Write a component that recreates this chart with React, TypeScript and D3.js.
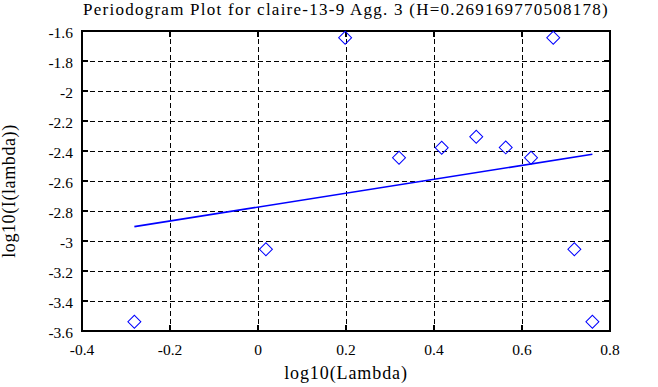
import React, { useEffect, useRef } from 'react';
import * as d3 from 'd3';

// log10(Lambda) / log10(I(lambda)) pairs
const lambdaLog = [-0.281, 0.018, 0.198, 0.3205, 0.4175, 0.496, 0.563, 0.6205, 0.671, 0.719, 0.76];
const powerLog = [-3.538, -3.055, -1.645, -2.445, -2.378, -2.305, -2.376, -2.445, -1.645, -3.055, -3.538];

const xTicks = [-0.4, -0.2, 0, 0.2, 0.4, 0.6, 0.8];
const yTicks = [-1.6, -1.8, -2, -2.2, -2.4, -2.6, -2.8, -3, -3.2, -3.4, -3.6];

const title = 'Periodogram Plot for claire-13-9 Agg. 3 (H=0.269169770508178)';
const xTitle = 'log10(Lambda)';
const yTitle = 'log10(I(lambda))';

export default function App() {
    const ref = useRef<SVGSVGElement>(null);

    useEffect(() => {
        const svg = d3.select(ref.current);
        svg.selectAll('*').remove();

        const W = 658;
        const H = 387;
        const margin = { top: 31, right: 48, bottom: 56, left: 82 };
        const font = '"Liberation Serif", "Times New Roman", serif';

        const x = d3.scaleLinear().domain([-0.4, 0.8]).range([margin.left, W - margin.right]);
        const y = d3.scaleLinear().domain([-3.6, -1.6]).range([H - margin.bottom, margin.top]);
        const [x0, x1] = x.range();
        const [y1, y0] = y.range();

        // dashed grid
        const grid = svg.append('g').attr('stroke', '#000').attr('stroke-width', 1).attr('stroke-dasharray', '5,3');
        grid.selectAll('.gx')
            .data(xTicks.slice(1, -1))
            .enter()
            .append('line')
            .attr('x1', (d) => Math.round(x(d)) + 0.5)
            .attr('x2', (d) => Math.round(x(d)) + 0.5)
            .attr('y1', y0)
            .attr('y2', y1);
        grid.selectAll('.gy')
            .data(yTicks.slice(1, -1))
            .enter()
            .append('line')
            .attr('x1', x0)
            .attr('x2', x1)
            .attr('y1', (d) => Math.round(y(d)) + 0.5)
            .attr('y2', (d) => Math.round(y(d)) + 0.5);

        // inward ticks on all four sides
        const ticks = svg.append('g').attr('stroke', '#000').attr('stroke-width', 2);
        const tl = 6;
        xTicks.forEach((t) => {
            const px = Math.round(x(t));
            ticks.append('line').attr('x1', px).attr('x2', px).attr('y1', y1).attr('y2', y1 - tl);
            ticks.append('line').attr('x1', px).attr('x2', px).attr('y1', y0).attr('y2', y0 + tl);
        });
        yTicks.forEach((t) => {
            const py = Math.round(y(t));
            ticks.append('line').attr('x1', x0).attr('x2', x0 + tl).attr('y1', py).attr('y2', py);
            ticks.append('line').attr('x1', x1).attr('x2', x1 - tl).attr('y1', py).attr('y2', py);
        });

        svg.append('rect')
            .attr('x', x0)
            .attr('y', y0)
            .attr('width', x1 - x0)
            .attr('height', y1 - y0)
            .attr('fill', 'none')
            .attr('stroke', '#000')
            .attr('stroke-width', 2);

        // least-squares fit line
        const mx = d3.mean(lambdaLog) as number;
        const my = d3.mean(powerLog) as number;
        const slope =
            d3.sum(lambdaLog, (v, i) => (v - mx) * (powerLog[i] - my)) / d3.sum(lambdaLog, (v) => (v - mx) ** 2);
        const fit = (v: number) => my + slope * (v - mx);
        const xs = d3.extent(lambdaLog) as [number, number];
        svg.append('path')
            .datum(xs)
            .attr('d', d3.line<number>().x((d) => x(d)).y((d) => y(fit(d))))
            .attr('stroke', '#0000ff')
            .attr('stroke-width', 1.6)
            .attr('fill', 'none');

        // diamonds
        svg.selectAll('.pt')
            .data(lambdaLog)
            .enter()
            .append('path')
            .attr('d', d3.symbol().type(d3.symbolSquare).size(84))
            .attr('transform', (d, i) => `translate(${x(d)},${y(powerLog[i])}) rotate(45)`)
            .attr('fill', 'none')
            .attr('stroke', '#0000ff')
            .attr('stroke-width', 1);

        // tick labels
        svg.selectAll('.xl')
            .data(xTicks)
            .enter()
            .append('text')
            .attr('x', (d) => x(d))
            .attr('y', 355)
            .attr('text-anchor', 'middle')
            .attr('font-family', font)
            .attr('font-size', 15.5)
            .text((d) => String(d));
        svg.selectAll('.yl')
            .data(yTicks)
            .enter()
            .append('text')
            .attr('x', 73)
            .attr('y', (d) => y(d) + 7)
            .attr('text-anchor', 'end')
            .attr('font-family', font)
            .attr('font-size', 15.5)
            .text((d) => String(d));

        svg.append('text')
            .attr('x', (x0 + x1) / 2)
            .attr('y', 15)
            .attr('text-anchor', 'middle')
            .attr('font-family', font)
            .attr('font-size', 17)
            .attr('letter-spacing', 1.25)
            .text(title);
        svg.append('text')
            .attr('x', (x0 + x1) / 2)
            .attr('y', 379)
            .attr('text-anchor', 'middle')
            .attr('font-family', font)
            .attr('font-size', 18)
            .attr('letter-spacing', 0.9)
            .text(xTitle);
        svg.append('text')
            .attr('transform', 'translate(15,191) rotate(-90)')
            .attr('text-anchor', 'middle')
            .attr('font-family', font)
            .attr('font-size', 18)
            .attr('letter-spacing', 0.6)
            .text(yTitle);
    }, []);

    return (
        <svg
            ref={ref}
            width={658}
            height={387}
            style={{ position: 'absolute', left: 0, top: 0, background: '#fff' }}
        />
    );
}
